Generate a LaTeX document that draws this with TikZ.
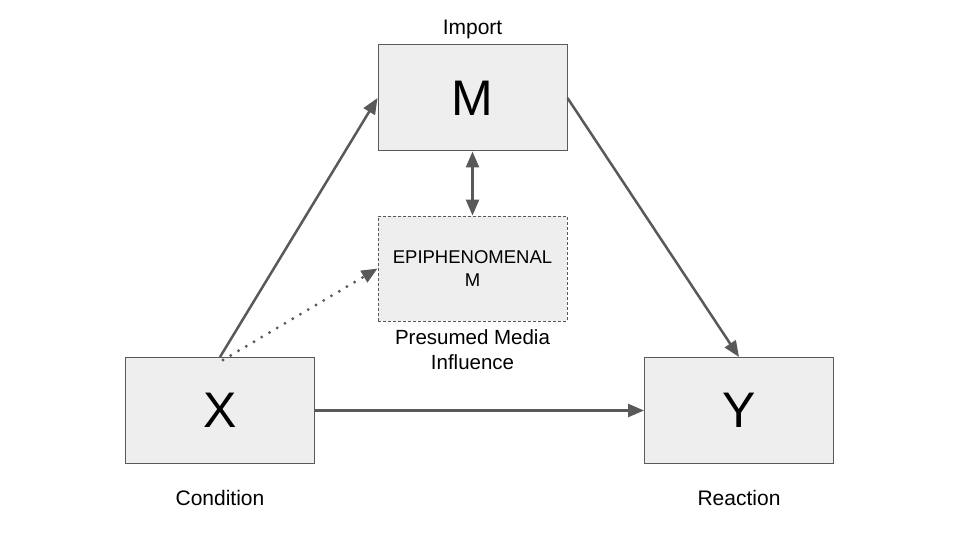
\documentclass[tikz,border=0pt]{standalone}
\usepackage{fontspec}
\setmainfont{Liberation Sans}
\usetikzlibrary{arrows.meta}
\definecolor{boxfill}{HTML}{EEEEEE}
\definecolor{edge}{HTML}{595959}
\tikzset{
  varbox/.style={draw=edge, line width=1pt, fill=boxfill, minimum width=189pt, minimum height=106pt, inner sep=0pt, font=\fontsize{50}{54}\selectfont},
  epibox/.style={draw=edge, line width=0.8pt, dash pattern=on 3pt off 2pt, fill=boxfill, minimum width=189pt, minimum height=105pt, inner sep=0pt, align=center, font=\fontsize{18.5}{23}\selectfont},
  lbl/.style={font=\fontsize{21}{25}\selectfont, align=center, inner sep=0pt},
  conn/.style={draw=edge, line width=2.5pt, -{Triangle[length=16pt,width=13pt]}},
  dconn/.style={draw=edge, line width=2.5pt, {Triangle[length=16pt,width=13pt]}-{Triangle[length=16pt,width=13pt]}},
  dotconn/.style={draw=edge, line width=3.2pt, line cap=round, dash pattern=on 0pt off 9pt, -{Triangle[length=16pt,width=13pt]}}
}
\begin{document}
\begin{tikzpicture}[x=1pt,y=-1pt]
\useasboundingbox (0,0) rectangle (960,540);
\node[varbox] (M) at (472.5,98) {M};
\node[epibox] (E) at (472.5,268.5) {EPIPHENOMENAL\\M};
\node[varbox] (X) at (220,410.5) {X};
\node[varbox] (Y) at (739,410.5) {Y};
\node[lbl] (lImport) at (472.5,29) {Import};
\node[lbl] (lCond) at (220,497.5) {Condition};
\node[lbl] (lReac) at (739,497.5) {Reaction};
\node[lbl, font=\fontsize{20.5}{25}\selectfont] (lPMI) at (472.5,350) {Presumed Media\\Influence};
\draw[conn] (X.north) -- (M.west);
\draw[conn] (M.east) -- (Y.north);
\draw[conn] (X.east) -- (Y.west);
\draw[dconn] (M.south) -- (E.north);
\draw[dotconn] ([xshift=3pt,yshift=-3pt]X.north) -- (E.west);
\end{tikzpicture}
\end{document}
